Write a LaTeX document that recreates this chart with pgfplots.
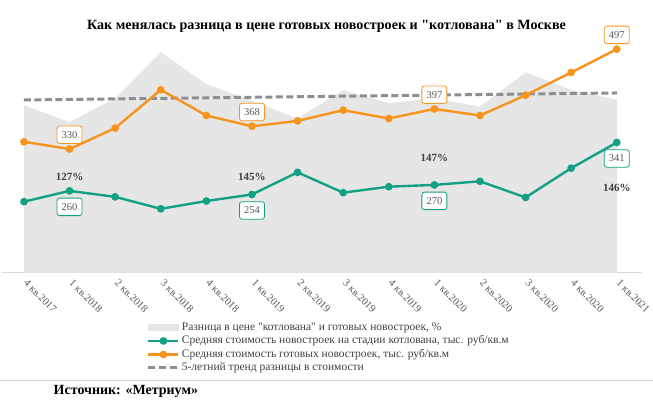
\documentclass[border=0pt]{standalone}
\usepackage{pgfplots}
\pgfplotsset{compat=1.18}
\usepackage{pgfplotstable}
\usepackage{fontspec}
\setmainfont{Liberation Serif}[Ligatures=TeXOff]
\definecolor{orangeC}{HTML}{F7941D}
\definecolor{greenC}{HTML}{14A085}
\definecolor{areaC}{HTML}{E6E6E6}
\definecolor{trendC}{HTML}{8A8F94}
\definecolor{txtC}{HTML}{595959}
\definecolor{pctC}{HTML}{404040}
\definecolor{axC}{HTML}{D9D9D9}

\pgfplotstableread{
x pct
0 141
1 127
2 147
3 186
4 159
5 145
6 130
7 154
8 143
9 147
10 140
11 169
12 154
13 146
}\pcttable

\pgfplotstableread{
x pit ready
0 242 342
1 260 330
2 250 365
3 230 429
4 243 386
5 254 368
6 291 377
7 257 395
8 267 381
9 270 397
10 276 386
11 249 420
12 298 458
13 341 497
}\pricetable

\begin{document}
\begin{tikzpicture}[x=1pt,y=1pt]
\path[use as bounding box] (0pt,0pt) rectangle (653pt,-399pt);
\node[anchor=base, font=\bfseries\fontsize{14.1}{16}\selectfont] at (326.5pt,-29pt) {Как менялась разница в цене готовых новостроек и "котлована" в Москве};

\begin{axis}[at={(2pt,-272.5pt)}, anchor=south west, width=640pt, height=232.5pt, scale only axis,
  xmin=-0.482, xmax=13.553, ymin=0, ymax=196.2,
  axis x line*=bottom, axis y line=none,
  x axis line style={draw=axC, line width=1.5pt, -},
  xtick={0,...,13},
  xticklabels={4 кв.2017,1 кв.2018,2 кв.2018,3 кв.2018,4 кв.2018,1 кв.2019,2 кв.2019,3 кв.2019,4 кв.2019,1 кв.2020,2 кв.2020,3 кв.2020,4 кв.2020,1 кв.2021},
  major tick length=0pt,
  x tick label style={rotate=-45, anchor=north west, font=\fontsize{10.5}{12}\selectfont, text=txtC, xshift=4pt, yshift=2pt},
  ytick=\empty, clip=false]
\addplot[fill=areaC, draw=none] table[x=x,y=pct]{\pcttable} \closedcycle;
\addplot[trendC, dash pattern=on 7pt off 3.5pt, line width=3pt] coordinates {(0,145.6) (13,151.5)};
\node[font=\bfseries\fontsize{11}{12}\selectfont, text=pctC] at (axis cs:1,80.8) {127\%};
\node[font=\bfseries\fontsize{11}{12}\selectfont, text=pctC] at (axis cs:5,80.3) {145\%};
\node[font=\bfseries\fontsize{11}{12}\selectfont, text=pctC] at (axis cs:9,96.9) {147\%};
\node[font=\bfseries\fontsize{11}{12}\selectfont, text=pctC] at (axis cs:13,71.7) {146\%};
\end{axis}

\begin{axis}[at={(2pt,-272.5pt)}, anchor=south west, width=640pt, height=232.5pt, scale only axis,
  xmin=-0.482, xmax=13.553, ymin=123.5, ymax=512.3, hide axis, clip=false,
  legend image code/.code={\draw[mark repeat=2,mark phase=2,#1] plot coordinates {(0pt,0pt) (15pt,0pt) (30pt,0pt)};},
  legend style={at={(0.2261,-0.2065)}, anchor=north west, draw=none, fill=none, inner sep=0pt,
    font=\fontsize{11.5}{13}\selectfont, text=pctC, row sep=0pt,
    nodes={inner xsep=2pt, inner ysep=0.75pt, text height=9pt, text depth=3pt}},
  legend cell align=left]
\addlegendimage{legend image code/.code={\fill[areaC] (0pt,-3pt) rectangle (30pt,3pt);}}
\addlegendentry{Разница в цене "котлована" и готовых новостроек, \%}
\addplot[greenC, line width=2.4pt, mark=*, mark size=2.6pt] table[x=x,y=pit]{\pricetable};
\addlegendentry{Средняя стоимость новостроек на стадии котлована, тыс. руб/кв.м}
\addplot[orangeC, line width=2.4pt, mark=*, mark size=2.6pt] table[x=x,y=ready]{\pricetable};
\addlegendentry{Средняя стоимость готовых новостроек, тыс. руб/кв.м}
\addlegendimage{trendC, dash pattern=on 7pt off 4pt, line width=3pt}
\addlegendentry{5-летний тренд разницы в стоимости}

\addplot[forget plot, draw=none, mark=none, nodes near coords, point meta=explicit symbolic,
  every node near coord/.append style={anchor=center, yshift=14.3pt, draw=orangeC, line width=0.8pt, rounded corners=2.5pt, fill=white, text=txtC, font=\fontsize{10.5}{12}\selectfont, inner sep=0pt, minimum width=25pt, minimum height=17.5pt}]
  coordinates {(1,330)[330] (5,368)[368] (9,397)[397] (13,497)[497]};
\addplot[forget plot, draw=none, mark=none, nodes near coords, point meta=explicit symbolic,
  every node near coord/.append style={anchor=center, yshift=-16pt, draw=greenC, line width=0.8pt, rounded corners=2.5pt, fill=white, text=txtC, font=\fontsize{10.5}{12}\selectfont, inner sep=0pt, minimum width=25pt, minimum height=17.5pt}]
  coordinates {(1,260)[260] (5,254)[254] (9,270)[270] (13,341)[341]};
\end{axis}

\draw[axC, line width=1pt] (0pt,-380pt) -- (653pt,-380pt);
\node[anchor=base west, inner sep=0pt, font=\bfseries\fontsize{14}{16}\selectfont] at (53.5pt,-394pt) {Источник: «Метриум»};
\end{tikzpicture}
\end{document}
